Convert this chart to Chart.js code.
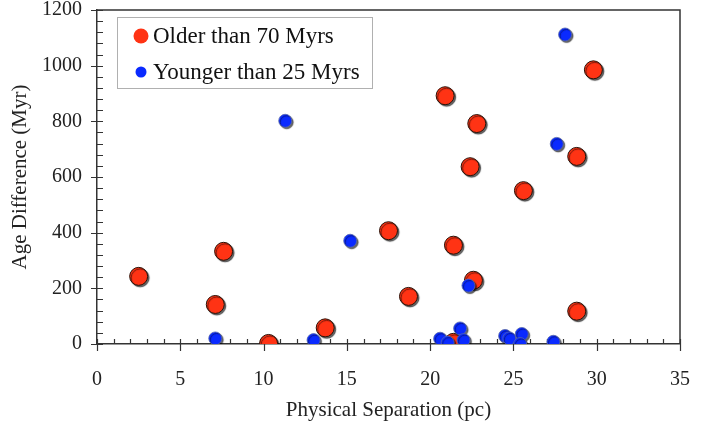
<!DOCTYPE html>
<html>
<head>
<meta charset="utf-8">
<script src="https://cdn.jsdelivr.net/npm/chart.js@4.4.1/dist/chart.umd.min.js"></script>
<style>
  html, body { margin: 0; padding: 0; background: #fff; }
  #wrap { width: 713px; height: 428px; }
</style>
</head>
<body>
<div id="wrap"><canvas id="ageChart" width="713" height="428"></canvas></div>
<script>
// Datos
const olderSep = [2.5, 7.1, 7.6, 10.3, 13.7, 17.5, 18.7, 20.9, 21.4, 21.4, 22.4, 22.6, 22.8, 25.6, 28.8, 28.8, 29.8];
const olderAge = [243, 142, 333, 2, 58, 407, 171, 892, 355, 6, 637, 229, 792, 551, 674, 118, 985];
const youngerSep = [7.1, 11.3, 13.0, 15.2, 20.6, 21.05, 21.8, 22.0, 22.3, 24.5, 24.75, 25.5, 25.4, 27.4, 27.6, 28.1];
const youngerAge = [20, 802, 14, 371, 19, 5, 56, 14, 210, 29, 20, 36, 0, 8, 719, 1112];
const seriesLabels = ['Older than 70 Myrs', 'Younger than 25 Myrs'];
const xTicks = [0, 5, 10, 15, 20, 25, 30, 35];
const yTicks = [0, 200, 400, 600, 800, 1000, 1200];
const xMinorStep = 1;
const yMinorStep = 40;

const RED = '#ff3314';
const BLUE = '#0a2aff';
const AXIS = '#333';
const serif = "'Liberation Serif', 'DejaVu Serif', serif";

function toPoints(xs, ys) {
    return xs.map(function (v, i) { return { x: v, y: ys[i] }; });
}

// sombra de los marcadores
const markerShadow = {
    id: 'markerShadow',
    beforeDatasetDraw(chart) {
        const ctx = chart.ctx;
        ctx.save();
        ctx.shadowColor = 'rgba(0,0,0,0.6)';
        ctx.shadowOffsetX = 1.5;
        ctx.shadowOffsetY = 1.5;
        ctx.shadowBlur = 1;
    },
    afterDatasetDraw(chart) {
        chart.ctx.restore();
    }
};

// marco superior/derecho y marcas de los ejes
const axisDecor = {
    id: 'axisDecor',
    beforeDatasetsDraw(chart) {
        const { ctx, chartArea: a, scales: { x, y } } = chart;
        ctx.save();
        ctx.strokeStyle = AXIS;
        ctx.lineWidth = 1.5;
        ctx.beginPath();
        ctx.moveTo(a.left, a.top);
        ctx.lineTo(a.right, a.top);
        ctx.lineTo(a.right, a.bottom);
        ctx.stroke();

        ctx.lineWidth = 1.2;
        ctx.beginPath();
        const x0 = xTicks[0], x1 = xTicks[xTicks.length - 1];
        for (let v = x0; v <= x1 + 1e-9; v += xMinorStep) {
            const px = Math.round(x.getPixelForValue(v)) + 0.5;
            const major = xTicks.indexOf(v) !== -1;
            ctx.moveTo(px, a.bottom - 5);
            ctx.lineTo(px, major ? a.bottom + 7 : a.bottom);
        }
        const y0 = yTicks[0], y1 = yTicks[yTicks.length - 1];
        for (let v = y0; v <= y1 + 1e-9; v += yMinorStep) {
            const py = Math.round(y.getPixelForValue(v)) + 0.5;
            const major = yTicks.indexOf(v) !== -1;
            ctx.moveTo(major ? a.left - 6 : a.left, py);
            ctx.lineTo(a.left + 6, py);
        }
        ctx.stroke();
        ctx.restore();
    }
};

// leyenda dentro del área del gráfico
const boxLegend = {
    id: 'boxLegend',
    afterDraw(chart) {
        const ctx = chart.ctx;
        const bx = 117, by = 17, bw = 255, bh = 71;
        ctx.save();
        ctx.fillStyle = '#fff';
        ctx.fillRect(bx, by, bw, bh);
        ctx.strokeStyle = '#b0b0b0';
        ctx.lineWidth = 1;
        ctx.strokeRect(bx + 0.5, by + 0.5, bw, bh);
        const rows = [
            { label: seriesLabels[0], color: RED, r: 7.5, y: 36 },
            { label: seriesLabels[1], color: BLUE, r: 5.5, y: 72 }
        ];
        ctx.font = '23px ' + serif;
        ctx.textBaseline = 'middle';
        rows.forEach(function (row) {
            ctx.beginPath();
            ctx.arc(141, row.y, row.r, 0, Math.PI * 2);
            ctx.fillStyle = row.color;
            ctx.fill();
            ctx.fillStyle = '#111';
            ctx.fillText(row.label, 153, row.y + 1);
        });
        ctx.restore();
    }
};

const ctx = document.getElementById('ageChart').getContext('2d');
const chart = new Chart(ctx, {
    type: 'scatter',
    data: {
        datasets: [{
            label: seriesLabels[0],
            data: toPoints(olderSep, olderAge),
            backgroundColor: RED,
            borderColor: '#2a1208',
            borderWidth: 1,
            pointRadius: 9,
            pointHoverRadius: 9,
            order: 1
        }, {
            label: seriesLabels[1],
            data: toPoints(youngerSep, youngerAge),
            backgroundColor: BLUE,
            borderColor: '#5566aa',
            borderWidth: 0.8,
            pointRadius: 6.5,
            pointHoverRadius: 6.5,
            order: 0
        }]
    },
    options: {
        responsive: false,
        animation: false,
        devicePixelRatio: 1,
        layout: { padding: { left: 0, right: 33, top: 8, bottom: 0 } },
        plugins: {
            legend: { display: false },
            tooltip: { enabled: false }
        },
        scales: {
            x: {
                type: 'linear',
                min: xTicks[0],
                max: xTicks[xTicks.length - 1],
                grid: { display: false, drawTicks: false },
                border: { display: true, color: AXIS, width: 1.5 },
                afterBuildTicks: function (scale) {
                    scale.ticks = xTicks.map(function (v) { return { value: v }; });
                },
                afterFit: function (scale) {
                    scale.height = 84;
                    scale.paddingLeft = 0;
                    scale.paddingRight = 0;
                },
                ticks: {
                    padding: 24,
                    color: '#222',
                    maxRotation: 0,
                    font: { family: serif, size: 20 },
                    callback: function (v) { return String(v); }
                },
                title: {
                    display: true,
                    text: 'Physical Separation (pc)',
                    color: '#222',
                    padding: { top: 0, bottom: 5 },
                    font: { family: serif, size: 21 }
                }
            },
            y: {
                type: 'linear',
                min: yTicks[0],
                max: yTicks[yTicks.length - 1],
                grid: { display: false, drawTicks: false },
                border: { display: true, color: AXIS, width: 1.5 },
                afterBuildTicks: function (scale) {
                    scale.ticks = yTicks.map(function (v) { return { value: v }; });
                },
                afterFit: function (scale) {
                    scale.width = 97;
                    scale.paddingTop = 0;
                    scale.paddingBottom = 0;
                },
                ticks: {
                    padding: 15,
                    color: '#222',
                    font: { family: serif, size: 20 },
                    callback: function (v) { return String(v); }
                },
                title: {
                    display: true,
                    text: 'Age Difference (Myr)',
                    color: '#222',
                    padding: { top: 8, bottom: 0 },
                    font: { family: serif, size: 21 }
                }
            }
        }
    },
    plugins: [markerShadow, axisDecor, boxLegend]
});
</script>
</body>
</html>
